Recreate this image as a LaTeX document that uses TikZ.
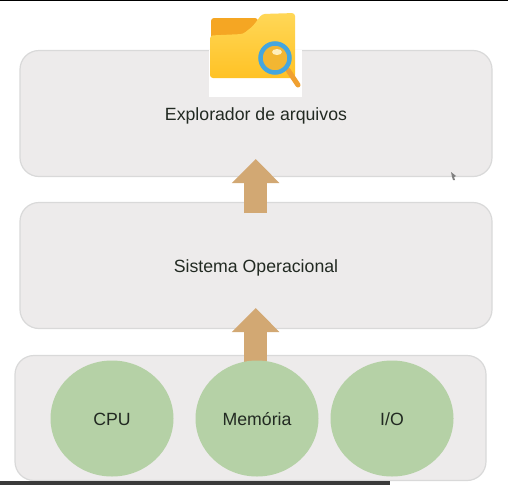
\documentclass[tikz,border=0pt]{standalone}
\usepackage{fontspec}
\setmainfont{Liberation Sans}
\usetikzlibrary{arrows.meta,shapes.geometric}
\definecolor{boxfill}{HTML}{EDEBEB}
\definecolor{boxline}{HTML}{D9D9D9}
\definecolor{circfill}{HTML}{B5D1A6}
\definecolor{upcolor}{HTML}{D2A873}
\definecolor{labelcol}{HTML}{222A22}
\definecolor{barcol}{HTML}{3A3A3A}
\definecolor{foldback}{HTML}{F5A623}
\definecolor{foldtop}{HTML}{FFD757}
\definecolor{foldlow}{HTML}{FFC225}
\definecolor{lensring}{HTML}{45A6DE}
\definecolor{lensin}{HTML}{F2B632}
\definecolor{lenshandle}{HTML}{F0A030}
\tikzset{
  layer/.style={draw=boxline,line width=1.2pt,fill=boxfill,rounded corners=19pt,minimum width=472pt,minimum height=126pt,inner sep=0pt},
  part/.style={ellipse,fill=circfill,minimum width=123pt,minimum height=116pt,inner sep=0pt},
  upflow/.style={draw=upcolor,line width=23pt,-{Triangle[length=24pt,width=46pt]}},
  caption/.style={font=\fontsize{17.7pt}{20pt}\selectfont,text=labelcol,inner sep=0pt,text height=12.5pt,text depth=0pt,yshift=-1pt}
}
\begin{document}
\begin{tikzpicture}[x=1pt,y=-1pt]
\useasboundingbox (0,0) rectangle (508,485);
\fill[white] (0,0) rectangle (508,485);
\fill[black] (0,0) rectangle (508,1.2);
% layers
\node[layer] (arquivos) at (256,113.5) {};
\node[layer] (sistema) at (256,265.5) {};
\node[layer,minimum width=471pt,minimum height=125pt] (hardware) at (250.5,418) {};
% arrows
\coordinate (up1a) at (255.7,213);
\coordinate (up1b) at (255.7,159);
\coordinate (up2a) at (255.7,365);
\coordinate (up2b) at (255.7,308);
\draw[upflow] (up1a) -- (up1b);
\draw[upflow] (up2a) -- (up2b);
% parts
\node[part] (cpu) at (112,418.5) {};
\node[part] (memoria) at (257,418.5) {};
\node[part] (io) at (392,418.5) {};
\node[caption] at (cpu) {CPU};
\node[caption] at (memoria) {Memória};
\node[caption] at (io) {I/O};
\node[caption] at (arquivos) {Explorador de arquivos};
\node[caption] at (sistema) {Sistema Operacional};
% folder icon
\fill[white] (209,50) rectangle (302,97);
\fill[foldback,rounded corners=3pt] (211,39) -- (211,18) -- (258,18) -- (258,39) -- cycle;
\shade[top color=foldtop,bottom color=foldlow,rounded corners=3pt] (210,35.5) -- (243,34) -- (253,26) -- (262,14) -- (295,13) -- (295,78) -- (210,78) -- cycle;
\draw[lenshandle,line width=5pt,line cap=round] (288,70) -- (298,85);
\draw[lensring,line width=4.5pt,fill=lensin] (275,58) circle (14.5pt);
\fill[white!60!foldtop] (277,52) ellipse (5pt and 3pt);
% pointer and bottom bar
\fill[gray] (451,172) -- (456,176) -- (454,177) -- (455,180) -- (453,180) -- (452,177) -- cycle;
\fill[barcol] (0,480.5) rectangle (390,485);
\end{tikzpicture}
\end{document}
